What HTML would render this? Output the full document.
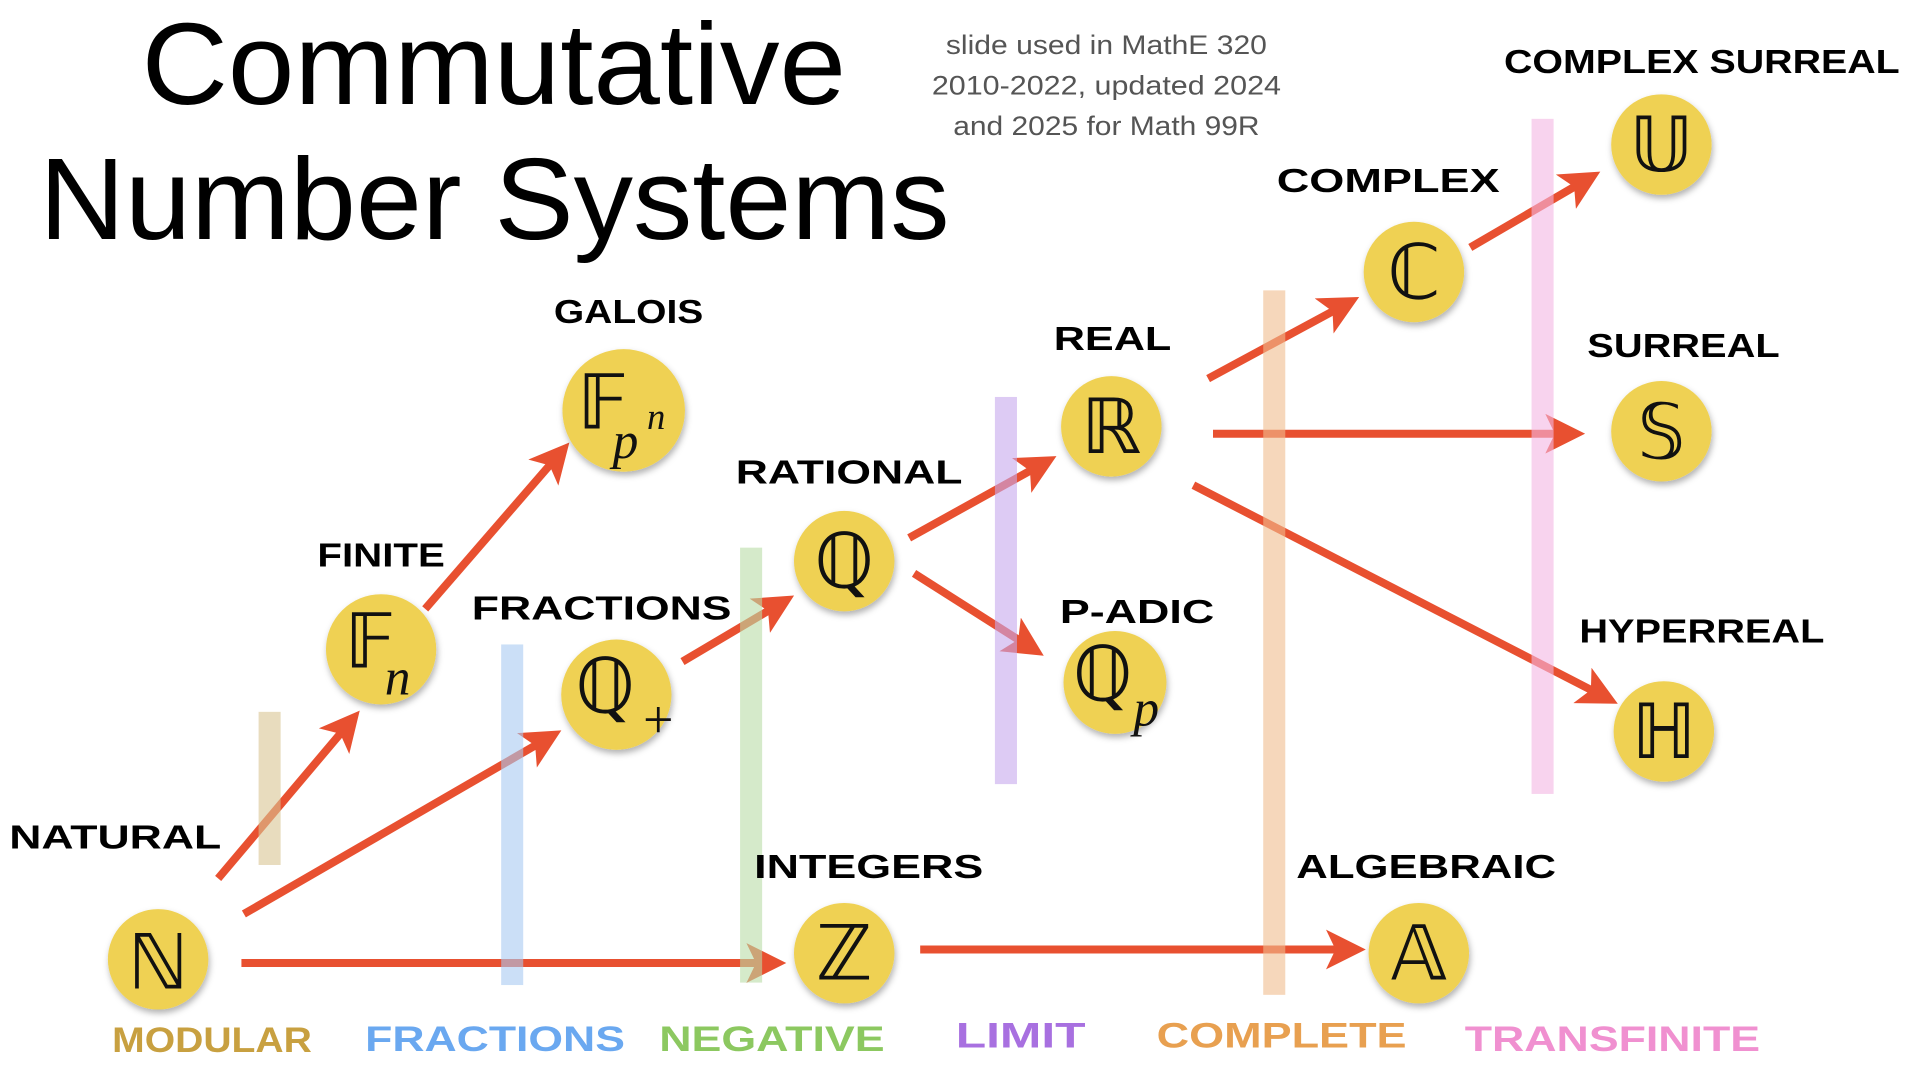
<!DOCTYPE html>
<html><head><meta charset="utf-8"><style>
html,body{margin:0;padding:0;background:#fff;width:1920px;height:1080px;overflow:hidden}
svg{display:block}
.t{font-family:"Liberation Sans",sans-serif;fill:#000}
.lab{font-family:"Liberation Sans","DejaVu Sans",sans-serif;font-size:27px;font-weight:bold;text-anchor:middle;dominant-baseline:central}
.bl{font-family:"Liberation Sans","DejaVu Sans",sans-serif;font-size:29px;font-weight:bold;text-anchor:middle;dominant-baseline:central}
.sym{font-family:"DejaVu Sans",sans-serif;font-size:62px;text-anchor:middle;dominant-baseline:central;fill:#111}
.sub{font-family:"Liberation Serif",serif;font-style:italic;fill:#111}
</style></head><body>
<svg width="1920" height="1080" viewBox="0 0 1567 881.5" xmlns="http://www.w3.org/2000/svg">
<defs>
<marker id="ah" markerWidth="5" markerHeight="5" refX="3.2" refY="2.5" orient="auto" markerUnits="strokeWidth">
<path d="M0,0 L5,2.5 L0,5 L1.2,2.5 Z" fill="#e85030"/></marker>
<filter id="sh" x="-30%" y="-30%" width="160%" height="160%"><feDropShadow dx="1" dy="3" stdDeviation="2.5" flood-color="#000" flood-opacity="0.3"/></filter>
</defs>
<text class="t" x="403" y="85" font-size="95" text-anchor="middle" textLength="575" lengthAdjust="spacingAndGlyphs">Commutative</text>
<text class="t" x="32" y="195" font-size="95" textLength="743" lengthAdjust="spacingAndGlyphs">Number Systems</text>
<g font-family="Liberation Sans,sans-serif" font-size="22" fill="#555" text-anchor="middle">
<text x="903" y="44" textLength="262" lengthAdjust="spacingAndGlyphs">slide used in MathE 320</text>
<text x="903" y="77" textLength="285" lengthAdjust="spacingAndGlyphs">2010-2022, updated 2024</text>
<text x="903" y="110" textLength="250" lengthAdjust="spacingAndGlyphs">and 2025 for Math 99R</text>
</g>
<g stroke="#e85030" stroke-width="6.5" fill="none" marker-end="url(#ah)">
<line x1="178" y1="717" x2="286" y2="589"/>
<line x1="199" y1="746" x2="448" y2="602"/>
<line x1="197" y1="786" x2="630" y2="786"/>
<line x1="347" y1="497" x2="457" y2="370"/>
<line x1="557" y1="540" x2="638" y2="492"/>
<line x1="742" y1="439" x2="852" y2="378"/>
<line x1="746" y1="468" x2="842" y2="529"/>
<line x1="986" y1="309" x2="1099" y2="248"/>
<line x1="990" y1="354" x2="1282" y2="354"/>
<line x1="974" y1="396" x2="1310" y2="569"/>
<line x1="1200" y1="202" x2="1296" y2="146"/>
<line x1="751" y1="775" x2="1103" y2="775"/>
</g>
<g opacity="0.6">
<rect x="211" y="581" width="18" height="125" fill="#d9c592"/>
<rect x="409" y="526" width="18" height="278" fill="#a9c9f2"/>
<rect x="604" y="447" width="18" height="355" fill="#b9dca6"/>
<rect x="812" y="324" width="18" height="316" fill="#c6a9ec"/>
<rect x="1031" y="237" width="18" height="575" fill="#f0bd8d"/>
<rect x="1250" y="97" width="18" height="551" fill="#f4b6e3"/>
</g>
<g fill="#efd152" filter="url(#sh)">
<circle cx="129" cy="783" r="41"/><circle cx="311" cy="530" r="45"/><circle cx="509" cy="335" r="50"/>
<circle cx="503" cy="567" r="45"/><circle cx="689" cy="458" r="41"/><circle cx="689" cy="778" r="41"/>
<circle cx="907" cy="348" r="41"/><circle cx="910" cy="557" r="42"/><circle cx="1154" cy="222" r="41"/>
<circle cx="1356" cy="118" r="41"/><circle cx="1356" cy="352" r="41"/><circle cx="1358" cy="597" r="41"/>
<circle cx="1158" cy="778" r="41"/>
</g>
<text class="sym" x="129" y="785">ℕ</text>
<text class="sym" x="302" y="523">𝔽</text><text class="sub" x="314" y="567" font-size="42">n</text>
<text class="sym" x="492" y="328">𝔽</text><text class="sub" x="500" y="374" font-size="42">p</text><text class="sub" x="528" y="350" font-size="30">n</text>
<text class="sym" x="494" y="560">ℚ</text><text class="sub" x="522" y="602" font-size="44" font-style="normal">+</text>
<text class="sym" x="689" y="458">ℚ</text>
<text class="sym" x="689" y="778">ℤ</text>
<text class="sym" x="907" y="348">ℝ</text>
<text class="sym" x="900" y="550">ℚ</text><text class="sub" x="925" y="592" font-size="42">p</text>
<text class="sym" x="1154" y="222">ℂ</text>
<text class="sym" x="1356" y="118">𝕌</text>
<text class="sym" x="1356" y="352">𝕊</text>
<text class="sym" x="1358" y="597">ℍ</text>
<text class="sym" x="1158" y="778">𝔸</text>
<g lengthAdjust="spacingAndGlyphs">
<text class="lab" x="94" y="684" textLength="173" lengthAdjust="spacingAndGlyphs">NATURAL</text>
<text class="lab" x="513" y="255" textLength="122" lengthAdjust="spacingAndGlyphs">GALOIS</text>
<text class="lab" x="311" y="454" textLength="104" lengthAdjust="spacingAndGlyphs">FINITE</text>
<text class="lab" x="491" y="497" textLength="212" lengthAdjust="spacingAndGlyphs">FRACTIONS</text>
<text class="lab" x="693" y="386" textLength="185" lengthAdjust="spacingAndGlyphs">RATIONAL</text>
<text class="lab" x="908" y="277" textLength="96" lengthAdjust="spacingAndGlyphs">REAL</text>
<text class="lab" x="928" y="500" textLength="126" lengthAdjust="spacingAndGlyphs">P-ADIC</text>
<text class="lab" x="709" y="708" textLength="187" lengthAdjust="spacingAndGlyphs">INTEGERS</text>
<text class="lab" x="1133" y="148" textLength="182" lengthAdjust="spacingAndGlyphs">COMPLEX</text>
<text class="lab" x="1389" y="51" textLength="323" lengthAdjust="spacingAndGlyphs">COMPLEX SURREAL</text>
<text class="lab" x="1374" y="283" textLength="157" lengthAdjust="spacingAndGlyphs">SURREAL</text>
<text class="lab" x="1389" y="516" textLength="200" lengthAdjust="spacingAndGlyphs">HYPERREAL</text>
<text class="lab" x="1164" y="708" textLength="212" lengthAdjust="spacingAndGlyphs">ALGEBRAIC</text>
<text class="bl" x="173" y="849" fill="#c8a040" textLength="163" lengthAdjust="spacingAndGlyphs">MODULAR</text>
<text class="bl" x="404" y="848" fill="#6aa8f0" textLength="212" lengthAdjust="spacingAndGlyphs">FRACTIONS</text>
<text class="bl" x="630" y="848" fill="#8cc860" textLength="184" lengthAdjust="spacingAndGlyphs">NEGATIVE</text>
<text class="bl" x="833" y="845" fill="#a870e0" textLength="106" lengthAdjust="spacingAndGlyphs">LIMIT</text>
<text class="bl" x="1046" y="845" fill="#e8a050" textLength="204" lengthAdjust="spacingAndGlyphs">COMPLETE</text>
<text class="bl" x="1316" y="848" fill="#f090d0" textLength="241" lengthAdjust="spacingAndGlyphs">TRANSFINITE</text>
</g>
</svg>
</body></html>
